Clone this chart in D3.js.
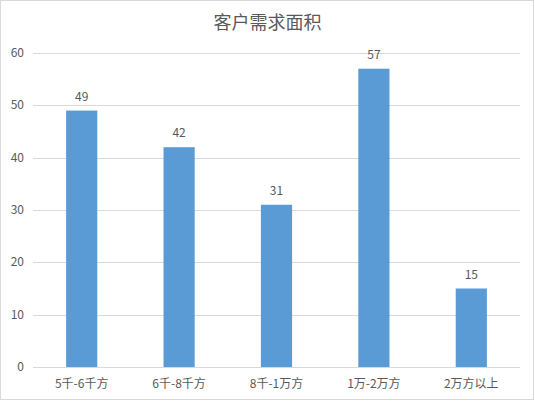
<!DOCTYPE html>
<html>
<head>
<meta charset="utf-8">
<script src="https://cdn.jsdelivr.net/npm/d3@7"></script>
<style>
  body { margin: 0; background: #fff; }
  text { font-family: "Noto Sans CJK SC", "Noto Sans", sans-serif; fill: #595959; }
</style>
</head>
<body>
<svg id="chart"></svg>
<script>
const categories = ["5千-6千方", "6千-8千方", "8千-1万方", "1万-2万方", "2万方以上"];
const values = [49, 42, 31, 57, 15];
const yTicks = [0, 10, 20, 30, 40, 50, 60];

const width = 535, height = 401;
const margin = { top: 53, right: 15, bottom: 34, left: 33 };

const svg = d3.select("#chart")
    .attr("width", width)
    .attr("height", height);

// outer border
svg.append("rect")
    .attr("x", 0.5).attr("y", 0.5)
    .attr("width", width - 2).attr("height", height - 2)
    .attr("fill", "#fff")
    .attr("stroke", "#d9d9d9");

const x = d3.scaleBand()
    .domain(categories)
    .range([margin.left, width - margin.right])
    .paddingInner(0.68)
    .paddingOuter(0.34);

const y = d3.scaleLinear()
    .domain([0, 60])
    .range([height - margin.bottom, margin.top]);

// gridlines
svg.append("g")
    .selectAll("line")
    .data(yTicks)
    .join("line")
    .attr("x1", margin.left)
    .attr("x2", width - margin.right)
    .attr("y1", d => Math.round(y(d)) + 0.5)
    .attr("y2", d => Math.round(y(d)) + 0.5)
    .attr("stroke", "#d9d9d9");

// y tick labels
svg.append("g")
    .selectAll("text")
    .data(yTicks)
    .join("text")
    .attr("x", 24)
    .attr("y", d => y(d) + 4)
    .attr("text-anchor", "end")
    .attr("font-size", 12)
    .text(d => d);

// bars
svg.append("g")
    .selectAll("rect")
    .data(values)
    .join("rect")
    .attr("x", (d, i) => x(categories[i]))
    .attr("y", d => y(d))
    .attr("width", x.bandwidth())
    .attr("height", d => y(0) - y(d))
    .attr("fill", "#5b9bd5");

// value labels
svg.append("g")
    .selectAll("text")
    .data(values)
    .join("text")
    .attr("x", (d, i) => x(categories[i]) + x.bandwidth() / 2)
    .attr("y", d => y(d) - 10)
    .attr("text-anchor", "middle")
    .attr("font-size", 12)
    .attr("fill", "#404040")
    .text(d => d);

// category labels
svg.append("g")
    .selectAll("text")
    .data(categories)
    .join("text")
    .attr("x", d => x(d) + x.bandwidth() / 2)
    .attr("y", height - margin.bottom + 21)
    .attr("text-anchor", "middle")
    .attr("font-size", 12)
    .text(d => d);

// title
svg.append("text")
    .attr("x", width / 2)
    .attr("y", 29)
    .attr("text-anchor", "middle")
    .attr("font-size", 18)
    .text("客户需求面积");
</script>
</body>
</html>
